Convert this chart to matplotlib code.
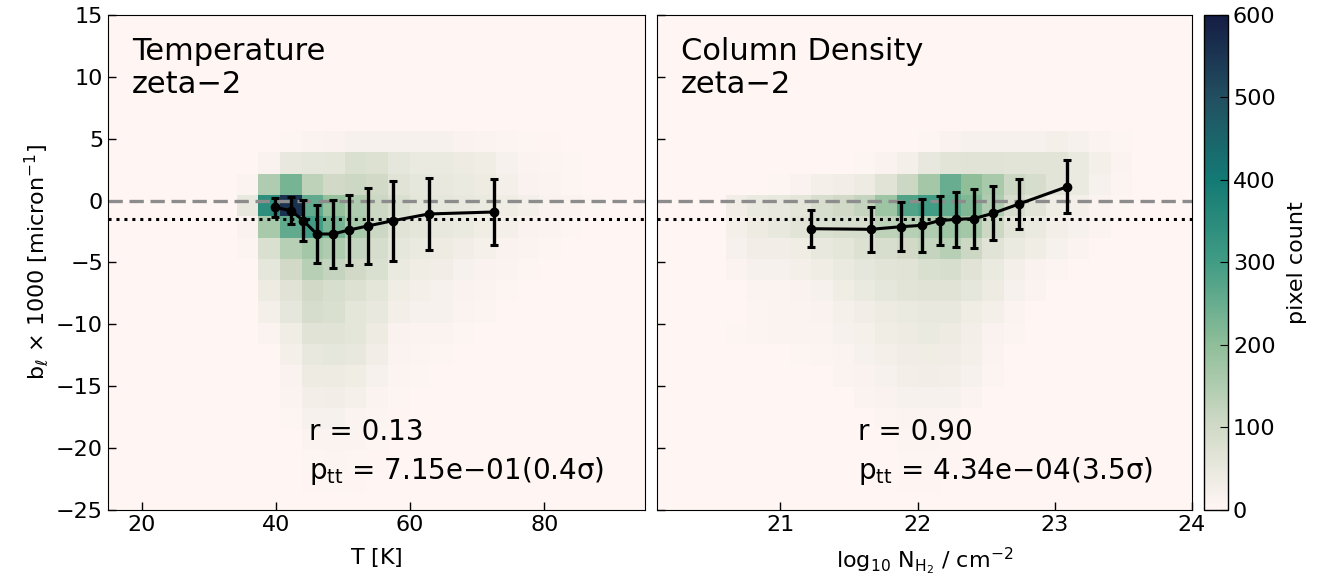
import matplotlib
matplotlib.use("Agg")
import matplotlib.pyplot as plt
import numpy as np
from matplotlib.colors import LinearSegmentedColormap

# binned means (+/- scatter) of b_l*1000
t_bins = [39.9, 42.3, 44.1, 46.1, 48.5, 50.9, 53.7, 57.5, 62.8, 72.5]
t_mean = [-0.54, -0.82, -1.62, -2.70, -2.70, -2.38, -2.05, -1.62, -1.08, -0.92]
t_err = [0.77, 1.08, 1.68, 2.37, 2.73, 2.83, 3.10, 3.24, 2.90, 2.68]

n_bins = [21.22, 21.66, 21.88, 22.03, 22.16, 22.28, 22.41, 22.55, 22.74, 23.09]
n_mean = [-2.27, -2.32, -2.11, -2.00, -1.62, -1.51, -1.46, -1.03, -0.27, 1.12]
n_err = [1.50, 1.80, 2.00, 2.15, 1.97, 2.20, 2.40, 2.18, 2.00, 2.13]

# 2D histogram edges and pixel counts (rows listed top -> bottom)
t_edges = np.linspace(34.2, 88.9, 18)
n_edges = np.linspace(20.6, 23.564, 20)
b_edges = np.linspace(5.61, -23.63, 18)

t_counts = [
    [0, 0, 5, 10, 15, 20, 20, 20, 20, 18, 15, 12, 8, 5, 3, 0, 0],
    [0, 15, 50, 55, 60, 80, 75, 55, 45, 45, 40, 35, 20, 12, 8, 5, 0],
    [10, 150, 230, 130, 100, 110, 100, 70, 55, 50, 45, 40, 25, 15, 10, 5, 0],
    [50, 340, 560, 260, 190, 150, 110, 80, 60, 55, 50, 45, 35, 25, 15, 10, 5],
    [15, 160, 260, 300, 230, 160, 110, 70, 60, 50, 45, 35, 25, 15, 10, 5, 0],
    [8, 80, 140, 170, 150, 120, 90, 55, 45, 40, 30, 22, 15, 10, 5, 0, 0],
    [0, 55, 100, 140, 120, 100, 80, 45, 35, 30, 20, 15, 10, 5, 0, 0, 0],
    [0, 40, 70, 100, 85, 75, 60, 35, 25, 20, 15, 10, 5, 0, 0, 0, 0],
    [0, 25, 55, 90, 80, 60, 50, 28, 20, 18, 12, 8, 0, 0, 0, 0, 0],
    [0, 12, 35, 70, 70, 60, 40, 15, 12, 10, 6, 0, 0, 0, 0, 0, 0],
    [0, 0, 25, 50, 55, 50, 30, 12, 8, 5, 0, 0, 0, 0, 0, 0, 0],
    [0, 0, 15, 40, 40, 35, 20, 8, 5, 0, 0, 0, 0, 0, 0, 0, 0],
    [0, 0, 10, 28, 30, 22, 12, 6, 0, 0, 0, 0, 0, 0, 0, 0, 0],
    [0, 0, 6, 18, 18, 14, 8, 4, 0, 0, 0, 0, 0, 0, 0, 0, 0],
    [0, 0, 0, 10, 12, 10, 6, 0, 0, 0, 0, 0, 0, 0, 0, 0, 0],
    [0, 0, 0, 6, 8, 6, 4, 0, 0, 0, 0, 0, 0, 0, 0, 0, 0],
    [0, 0, 0, 4, 5, 4, 2, 0, 0, 0, 0, 0, 0, 0, 0, 0, 0],
]

n_counts = [
    [0, 0, 0, 0, 0, 0, 0, 0, 0, 5, 15, 20, 20, 20, 20, 25, 20, 12, 5],
    [0, 0, 0, 0, 0, 0, 5, 15, 25, 50, 65, 70, 70, 65, 65, 65, 45, 25, 10],
    [0, 0, 5, 15, 25, 30, 40, 70, 110, 170, 250, 200, 160, 110, 90, 65, 45, 20, 8],
    [30, 45, 50, 60, 85, 100, 120, 180, 280, 300, 260, 220, 150, 90, 65, 35, 25, 12, 5],
    [25, 40, 50, 65, 80, 85, 90, 130, 140, 150, 180, 170, 110, 65, 45, 28, 18, 10, 0],
    [20, 30, 30, 35, 50, 60, 75, 85, 100, 120, 140, 110, 70, 45, 35, 20, 10, 0, 0],
    [10, 18, 20, 25, 35, 45, 55, 65, 70, 80, 85, 70, 45, 25, 15, 8, 0, 0, 0],
    [0, 10, 12, 15, 20, 35, 45, 55, 65, 70, 70, 55, 40, 18, 10, 0, 0, 0, 0],
    [0, 8, 10, 12, 15, 22, 30, 40, 45, 50, 50, 35, 25, 10, 0, 0, 0, 0, 0],
    [5, 8, 10, 10, 12, 18, 22, 35, 40, 45, 42, 28, 15, 8, 0, 0, 0, 0, 0],
    [0, 0, 0, 6, 8, 12, 18, 25, 32, 35, 32, 25, 10, 0, 0, 0, 0, 0, 0],
    [0, 0, 0, 0, 0, 10, 15, 20, 28, 30, 28, 18, 8, 0, 0, 0, 0, 0, 0],
    [0, 0, 0, 0, 0, 0, 10, 15, 20, 20, 18, 10, 0, 0, 0, 0, 0, 0, 0],
    [0, 0, 0, 0, 0, 0, 0, 8, 12, 12, 8, 0, 0, 0, 0, 0, 0, 0, 0],
    [0, 0, 0, 0, 0, 0, 0, 0, 8, 8, 5, 0, 0, 0, 0, 0, 0, 0, 0],
    [0, 0, 0, 0, 0, 0, 0, 0, 5, 6, 3, 0, 0, 0, 0, 0, 0, 0, 0],
    [0, 0, 0, 0, 0, 0, 0, 0, 4, 4, 0, 0, 0, 0, 0, 0, 0, 0, 0],
]

panels = [
    dict(name="Temperature", edges=t_edges, counts=t_counts, x=t_bins, y=t_mean, e=t_err,
         r="r = 0.13", p="7.15e\u221201(0.4\u03c3)", xlim=(15, 95), xticks=[20, 40, 60, 80],
         xlabel=r"T $\left[\mathrm{K}\right]$"),
    dict(name="Column Density", edges=n_edges, counts=n_counts, x=n_bins, y=n_mean, e=n_err,
         r="r = 0.90", p="4.34e\u221204(3.5\u03c3)", xlim=(20.1, 24), xticks=[21, 22, 23, 24],
         xlabel=r"log$_{10}$ N$_{\mathrm{H}_2}$ / cm$^{-2}$"),
]

# cmocean "tempo"-like colormap
tempo = LinearSegmentedColormap.from_list("tempo", [
    (0.0, (1.000, 0.965, 0.957)),
    (1 / 6, (0.820, 0.855, 0.780)),
    (2 / 6, (0.560, 0.745, 0.600)),
    (3 / 6, (0.255, 0.612, 0.518)),
    (4 / 6, (0.075, 0.478, 0.455)),
    (5 / 6, (0.133, 0.310, 0.380)),
    (1.0, (0.082, 0.114, 0.267)),
])

plt.rcParams["font.family"] = "DejaVu Sans"
plt.rcParams["mathtext.default"] = "regular"

fig = plt.figure(figsize=(13.35, 5.87), dpi=100)
axes = [fig.add_axes([0.0809, 0.1312, 0.4022, 0.8433]),
        fig.add_axes([0.4921, 0.1312, 0.4007, 0.8433])]
cax = fig.add_axes([0.9019, 0.1312, 0.018, 0.8433])

by = b_edges[::-1]
for i, (ax, pn) in enumerate(zip(axes, panels)):
    ax.set_facecolor(tempo(0.0))
    C = np.array(pn["counts"], dtype=float)[::-1]
    mesh = ax.pcolormesh(pn["edges"], by, C, cmap=tempo, vmin=0, vmax=600, zorder=1)
    ax.axhline(0, color="#8c8c8c", ls=(0, (4.3, 2)), lw=2.4, zorder=2)
    ax.axhline(-1.5, color="black", ls=(0, (1, 1.6)), lw=2.2, zorder=2)
    ax.errorbar(pn["x"], pn["y"], yerr=pn["e"], color="black", lw=2.2, marker="o", ms=6,
                capsize=3, capthick=2.2, elinewidth=2.4, zorder=3)
    ax.set_xlim(*pn["xlim"])
    ax.set_ylim(-25, 15)
    ax.set_xticks(pn["xticks"])
    ax.set_yticks(range(-25, 16, 5))
    ax.tick_params(direction="in", length=6, width=1, labelsize=16)
    ax.set_xlabel(pn["xlabel"], fontsize=16, labelpad=8)
    ax.text(0.045, 0.955, pn["name"] + "\nzeta\u22122", transform=ax.transAxes,
            fontsize=22, va="top", ha="left", linespacing=1.15)
    ax.text(0.375, 0.141, pn["r"], transform=ax.transAxes, fontsize=20, va="baseline")
    ax.text(0.375, 0.062, r"p$_\mathrm{tt}$ = " + pn["p"], transform=ax.transAxes,
            fontsize=20, va="baseline")
    if i == 0:
        ax.set_ylabel(r"b$_\ell$ $\times$ 1000 $\left[\mathrm{micron}^{-1}\right]$", fontsize=16)
    else:
        ax.set_yticklabels([])

cb = fig.colorbar(mesh, cax=cax)
cb.set_ticks(range(0, 601, 100))
cb.ax.tick_params(direction="in", length=6, labelsize=16)
cb.set_label("pixel count", fontsize=16, labelpad=8)
cb.outline.set_linewidth(1)

plt.savefig("out.png", dpi=100)
